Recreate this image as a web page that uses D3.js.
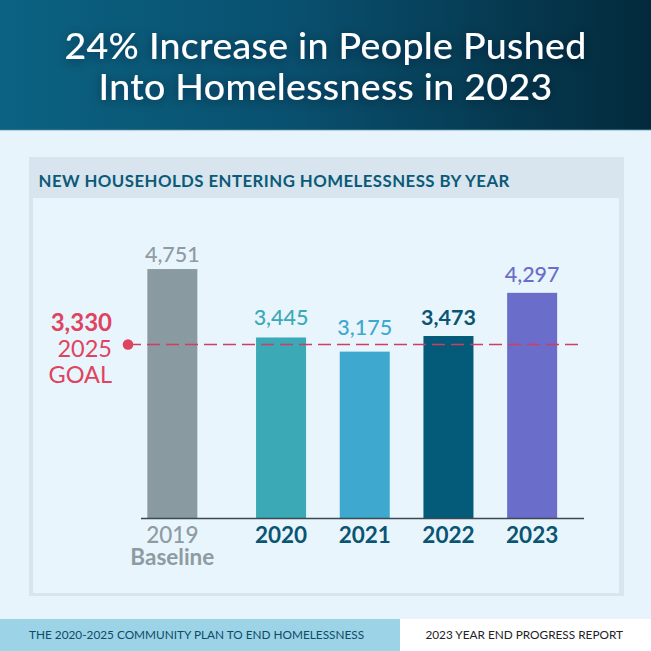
<!DOCTYPE html>
<html><head><meta charset="utf-8">
<script src="https://cdn.jsdelivr.net/npm/d3@7"></script>
<style>
html,body{margin:0;padding:0;background:#e8f4fb;}
svg{display:block;font-family:Lato,"Open Sans",sans-serif;}
</style></head>
<body>
<svg id="chart" width="651" height="651"></svg>
<script>
// ---- data ----
const categories = ["2019","2020","2021","2022","2023"];
const values = [4751, 3445, 3175, 3473, 4297];
const valueLabels = ["4,751","3,445","3,175","3,473","4,297"];
const tickLine1 = ["2019","2020","2021","2022","2023"];
const tickLine2 = ["Baseline","","","",""];
const goalValue = 3330;
const goalLabels = ["3,330","2025","GOAL"];
const titleLines = ["24% Increase in People Pushed","Into Homelessness in 2023"];
const subtitle = "NEW HOUSEHOLDS ENTERING HOMELESSNESS BY YEAR";
const footerLeft = "THE 2020-2025 COMMUNITY PLAN TO END HOMELESSNESS";
const footerRight = "2023 YEAR END PROGRESS REPORT";

// ---- styles ----
const barColors = ["#8a9aa1","#3ba9b6","#3ea8cf","#035a79","#6a6dc9"];
const labelColors = ["#8d9ba2","#3ba9b6","#3ea8cf","#0b5574","#6a6dc9"];
const labelWeights = [500,500,500,700,500];
const labelGap = [7,12,17,11,11];
const tickColors = ["#8d9ba2","#0b5574","#0b5574","#0b5574","#0b5574"];
const goalColor = "#e0435f";

const svg = d3.select("#chart");
const defs = svg.append("defs");
const grad = defs.append("linearGradient").attr("id","hdr").attr("x1","0").attr("x2","1").attr("y1","0").attr("y2","0");
grad.append("stop").attr("offset","0%").attr("stop-color","#0b6282");
grad.append("stop").attr("offset","45%").attr("stop-color","#09506f");
grad.append("stop").attr("offset","100%").attr("stop-color","#032a3c");
const sh = defs.append("filter").attr("id","tshadow").attr("x","-20%").attr("y","-50%").attr("width","140%").attr("height","200%");
sh.append("feDropShadow").attr("dx",0).attr("dy",2).attr("stdDeviation",6).attr("flood-color","#001822").attr("flood-opacity",0.45);

// background
svg.append("rect").attr("width",651).attr("height",651).attr("fill","#e8f4fb");
// header
svg.append("rect").attr("x",0).attr("y",0).attr("width",651).attr("height",130).attr("fill","url(#hdr)");
svg.append("rect").attr("x",0).attr("y",129).attr("width",651).attr("height",1.5).attr("fill","#3f7d93").attr("opacity",0.6);
svg.selectAll("text.title").data(titleLines).join("text").attr("class","title")
  .attr("x",325.5).attr("y",(d,i)=>59+i*41).attr("text-anchor","middle")
  .attr("fill","#ffffff").attr("font-size",37.5).attr("font-weight",500)
  .attr("letter-spacing",0.3)
  .attr("filter","url(#tshadow)").text(d=>d);

// card
svg.append("rect").attr("x",29).attr("y",157).attr("width",595).attr("height",439).attr("fill","#d8e5ee");
svg.append("rect").attr("x",33).attr("y",198).attr("width",586).attr("height",395).attr("fill","#e9f5fc");
svg.append("text").attr("x",38.5).attr("y",187).attr("fill","#0b5a78")
  .attr("font-size",16.8).attr("font-weight",700).attr("letter-spacing",0.45).text(subtitle);

// scales
const baseY = 518;
const y = d3.scaleLinear().domain([0,5000]).range([baseY, baseY-262]);
const x = d3.scaleBand().domain(categories).range([155.5, 574]).paddingInner(0.4026).paddingOuter(0.2013);
const baselineShift = -25;
const cx = (c,i) => x(c) + x.bandwidth()/2 + (i===0 ? baselineShift : 0);

// bars
svg.selectAll("rect.bar").data(values).join("rect").attr("class","bar")
  .attr("x",(d,i)=>cx(categories[i],i)-x.bandwidth()/2)
  .attr("width",x.bandwidth())
  .attr("y",d=>y(d)).attr("height",d=>baseY-y(d))
  .attr("fill",(d,i)=>barColors[i]);

// value labels
svg.selectAll("text.val").data(values).join("text").attr("class","val")
  .attr("x",(d,i)=>cx(categories[i],i)).attr("y",(d,i)=>y(d)-labelGap[i])
  .attr("text-anchor","middle").attr("font-size",21.5)
  .attr("font-weight",(d,i)=>labelWeights[i])
  .attr("fill",(d,i)=>labelColors[i]).text((d,i)=>valueLabels[i]);

// axis line
svg.append("line").attr("x1",141).attr("x2",584).attr("y1",baseY+0.5).attr("y2",baseY+0.5)
  .attr("stroke","#3a4a52").attr("stroke-width",1.3);

// tick labels
svg.selectAll("text.tick1").data(categories).join("text").attr("class","tick1")
  .attr("x",(d,i)=>cx(d,i)).attr("y",543).attr("text-anchor","middle")
  .attr("font-size",22.5).attr("font-weight",(d,i)=>i===0?500:700)
  .attr("fill",(d,i)=>tickColors[i]).text((d,i)=>tickLine1[i]);
svg.selectAll("text.tick2").data(categories).join("text").attr("class","tick2")
  .attr("x",(d,i)=>cx(d,i)).attr("y",565).attr("text-anchor","middle")
  .attr("font-size",22.5).attr("font-weight",700)
  .attr("fill",(d,i)=>tickColors[i]).text((d,i)=>tickLine2[i]);

// goal line
const gy = Math.round(y(goalValue)) + 0.5;
svg.append("line").attr("x1",128).attr("x2",583).attr("y1",gy).attr("y2",gy)
  .attr("stroke","#d13d60").attr("stroke-width",1.4).attr("stroke-dasharray","13,6");
svg.append("circle").attr("cx",128).attr("cy",gy).attr("r",5.3).attr("fill",goalColor);
svg.selectAll("text.goal").data(goalLabels).join("text").attr("class","goal")
  .attr("x",112).attr("y",(d,i)=>[331,357,383][i]).attr("text-anchor","end")
  .attr("font-size",(d,i)=>i===0?24:23.5).attr("font-weight",(d,i)=>i===0?700:400)
  .attr("fill",goalColor).text(d=>d);

// footer
svg.append("rect").attr("x",0).attr("y",619).attr("width",400).attr("height",32).attr("fill","#9dd3e6");
svg.append("rect").attr("x",400).attr("y",619).attr("width",251).attr("height",32).attr("fill","#ffffff");
svg.append("text").attr("x",29).attr("y",639).attr("fill","#0b4c66").attr("font-size",11.8).text(footerLeft);
svg.append("text").attr("x",623).attr("y",639).attr("text-anchor","end").attr("fill","#1e2326").attr("font-size",11.8).text(footerRight);
</script>
</body></html>
